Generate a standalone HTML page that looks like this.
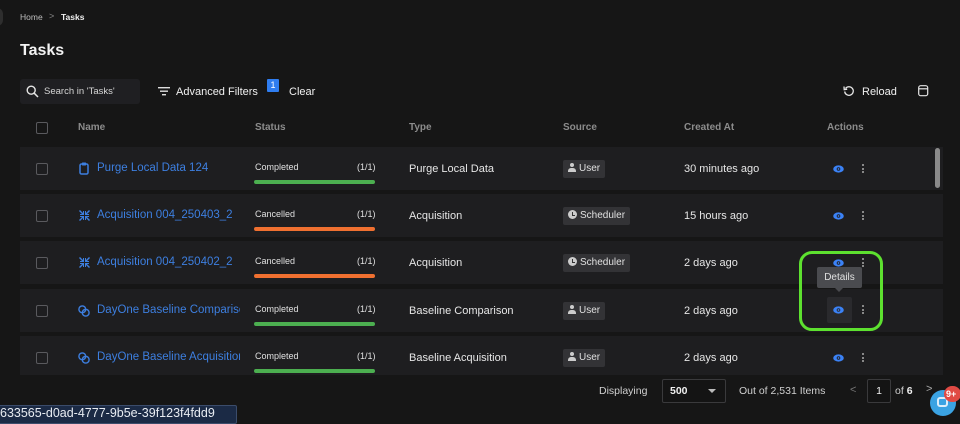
<!DOCTYPE html>
<html><head><meta charset="utf-8">
<style>
*{box-sizing:border-box;margin:0;padding:0}
body{width:960px;height:422px;overflow:hidden;background:#161616;font-family:"Liberation Sans",Arial,sans-serif;color:#e6e6e6;position:relative}
.a{position:absolute;white-space:nowrap}
.row{position:absolute;left:0;width:923px;height:43px;background:#1e1e20}
.cb{position:absolute;width:12px;height:12px;border:1px solid #5a5a5e;border-radius:2px}
.name{position:absolute;left:77px;top:15px;font-size:11.5px;color:#3d7fe0;width:143px;overflow:hidden;white-space:nowrap}
.st{position:absolute;left:235px;top:15px;font-size:9px;color:#e0e0e0}
.frac{position:absolute;left:337px;top:15px;font-size:9px;color:#e0e0e0}
.bar{position:absolute;left:234px;top:33px;width:121px;height:4px;border-radius:2px}
.type{position:absolute;left:389px;top:16px;font-size:11px;color:#e6e6e6}
.chip{position:absolute;left:543px;top:13px;height:18px;background:#333336;border-radius:2px;font-size:10px;color:#e0e0e0;padding:0 5px 0 5px;line-height:18px}
.ca{position:absolute;left:664px;top:16px;font-size:11px;color:#e6e6e6}
.eye{position:absolute;left:813px;top:18px}
.dots{position:absolute;left:842px;top:17px;width:2px}
.dots i{display:block;width:2px;height:2px;background:#aaa;margin-bottom:1.5px;border-radius:1px}
.hd{position:absolute;top:122px;font-size:10px;color:#8c8c8c;font-weight:bold}
</style></head><body>
<!-- left circle -->
<div class="a" style="left:-9px;top:8px;width:12px;height:18px;border-radius:9px;background:#2e2e2e"></div>
<!-- breadcrumbs -->
<div class="a" style="left:20px;top:12px;font-size:8.5px;color:#bdbdbd">Home</div>
<div class="a" style="left:49px;top:11px;font-size:9px;color:#888">&gt;</div>
<div class="a" style="left:61px;top:12px;font-size:8.5px;color:#f0f0f0;font-weight:bold">Tasks</div>
<div class="a" style="left:20px;top:42px;font-size:16px;color:#f2f2f2;font-weight:bold">Tasks</div>
<!-- search -->
<div class="a" style="left:20px;top:79px;width:120px;height:25px;background:#1f1f22;border-radius:3px"></div>
<svg class="a" style="left:26px;top:85px" width="13" height="13" viewBox="0 0 13 13"><circle cx="5.2" cy="5.2" r="4" fill="none" stroke="#e6e6e6" stroke-width="1.4"/><line x1="8.2" y1="8.2" x2="12" y2="12" stroke="#e6e6e6" stroke-width="1.5"/></svg>
<div class="a" style="left:44px;top:86px;font-size:9.5px;color:#d6d6d6">Search in 'Tasks'</div>
<!-- filters -->
<svg class="a" style="left:158px;top:86px" width="12" height="10"><rect x="0" y="1" width="12" height="1.4" fill="#ddd"/><rect x="2" y="4.5" width="8" height="1.4" fill="#ddd"/><rect x="4" y="8" width="4" height="1.4" fill="#ddd"/></svg>
<div class="a" style="left:176px;top:86px;font-size:11px;color:#f0f0f0">Advanced Filters</div>
<div class="a" style="left:267px;top:79px;width:12px;height:13px;background:#2f7df0;border-radius:1px;font-size:9px;color:#fff;text-align:center;line-height:13px">1</div>
<div class="a" style="left:289px;top:86px;font-size:11px;color:#f0f0f0">Clear</div>
<!-- reload -->
<svg class="a" style="left:843px;top:85px" width="12" height="12" viewBox="0 0 12 12"><path d="M2.5 3.5 A4.3 4.3 0 1 1 1.7 6.5" fill="none" stroke="#e6e6e6" stroke-width="1.3"/><path d="M1 1.5 L1.2 4.6 L4.2 4.2" fill="none" stroke="#e6e6e6" stroke-width="1.3"/></svg>
<div class="a" style="left:862px;top:86px;font-size:11px;color:#f0f0f0">Reload</div>
<svg class="a" style="left:918px;top:85px" width="11" height="12"><rect x="0.7" y="0.7" width="9" height="10" rx="2" fill="none" stroke="#e6e6e6" stroke-width="1.2"/><line x1="0.7" y1="3.8" x2="9.7" y2="3.8" stroke="#e6e6e6" stroke-width="1.2"/></svg>
<!-- header -->
<div class="cb" style="left:36px;top:122px"></div>
<div class="hd" style="left:78px">Name</div>
<div class="hd" style="left:255px">Status</div>
<div class="hd" style="left:409px">Type</div>
<div class="hd" style="left:563px">Source</div>
<div class="hd" style="left:684px">Created At</div>
<div class="hd" style="left:827px">Actions</div>
<!-- table -->
<div class="a" style="left:20px;top:147px;width:923px;height:228px;overflow:hidden">
 <!-- row1 -->
 <div class="row" style="top:0">
  <div class="cb" style="left:16px;top:16px"></div>
  <svg class="a" style="left:59px;top:15px" width="10" height="13"><rect x="1" y="2" width="8" height="10" rx="1.5" fill="none" stroke="#3d7fe0" stroke-width="1.5"/><rect x="3" y="0.5" width="4" height="3" rx="0.5" fill="#3d7fe0"/></svg>
  <div class="name">Purge Local Data 124</div>
  <div class="st">Completed</div><div class="frac">(1/1)</div>
  <div class="bar" style="background:#4caf50"></div>
  <div class="type">Purge Local Data</div>
  <div class="chip"><span style="display:inline-block;vertical-align:-1px;width:8px;height:9px;position:relative;margin-right:3px"><span style="position:absolute;left:2px;top:0;width:4px;height:4px;border-radius:2px;background:#ccc"></span><span style="position:absolute;left:0;top:5px;width:8px;height:4px;border-radius:3px 3px 0 0;background:#ccc"></span></span>User</div>
  <div class="ca">30 minutes ago</div>
  <svg class="eye" width="11" height="8" viewBox="0 0 11 8"><ellipse cx="5.5" cy="4" rx="5.3" ry="3.6" fill="#3b82f6"/><circle cx="5.5" cy="4" r="1.8" fill="#1e1e20"/><circle cx="5.5" cy="4" r="0.9" fill="#3b82f6"/></svg>
  <div class="dots"><i></i><i></i><i></i></div>
 </div>
 <!-- row2 -->
 <div class="row" style="top:47px">
  <div class="cb" style="left:16px;top:16px"></div>
  <svg class="a" style="left:59px;top:16px" width="11" height="11" viewBox="0 0 11 11" fill="#3d7fe0"><path d="M0 1 L1 0 L4 3 L4 1 L5 1 L5 5 L1 5 L1 4 L3 4 Z"/><path d="M11 1 L10 0 L7 3 L7 1 L6 1 L6 5 L10 5 L10 4 L8 4 Z"/><path d="M0 10 L1 11 L4 8 L4 10 L5 10 L5 6 L1 6 L1 7 L3 7 Z"/><path d="M11 10 L10 11 L7 8 L7 10 L6 10 L6 6 L10 6 L10 7 L8 7 Z"/></svg>
  <div class="name">Acquisition 004_250403_2</div>
  <div class="st">Cancelled</div><div class="frac">(1/1)</div>
  <div class="bar" style="background:#f07030"></div>
  <div class="type">Acquisition</div>
  <div class="chip"><span style="display:inline-block;vertical-align:-1px;width:9px;height:9px;border-radius:5px;background:#ccc;margin-right:3px;position:relative"><span style="position:absolute;left:4px;top:1.5px;width:1px;height:3.5px;background:#333"></span><span style="position:absolute;left:4px;top:4.5px;width:2.5px;height:1px;background:#333"></span></span>Scheduler</div>
  <div class="ca">15 hours ago</div>
  <svg class="eye" width="11" height="8" viewBox="0 0 11 8"><ellipse cx="5.5" cy="4" rx="5.3" ry="3.6" fill="#3b82f6"/><circle cx="5.5" cy="4" r="1.8" fill="#1e1e20"/><circle cx="5.5" cy="4" r="0.9" fill="#3b82f6"/></svg>
  <div class="dots"><i></i><i></i><i></i></div>
 </div>
 <!-- row3 -->
 <div class="row" style="top:94px">
  <div class="cb" style="left:16px;top:16px"></div>
  <svg class="a" style="left:59px;top:16px" width="11" height="11" viewBox="0 0 11 11" fill="#3d7fe0"><path d="M0 1 L1 0 L4 3 L4 1 L5 1 L5 5 L1 5 L1 4 L3 4 Z"/><path d="M11 1 L10 0 L7 3 L7 1 L6 1 L6 5 L10 5 L10 4 L8 4 Z"/><path d="M0 10 L1 11 L4 8 L4 10 L5 10 L5 6 L1 6 L1 7 L3 7 Z"/><path d="M11 10 L10 11 L7 8 L7 10 L6 10 L6 6 L10 6 L10 7 L8 7 Z"/></svg>
  <div class="name">Acquisition 004_250402_2</div>
  <div class="st">Cancelled</div><div class="frac">(1/1)</div>
  <div class="bar" style="background:#f07030"></div>
  <div class="type">Acquisition</div>
  <div class="chip"><span style="display:inline-block;vertical-align:-1px;width:9px;height:9px;border-radius:5px;background:#ccc;margin-right:3px;position:relative"><span style="position:absolute;left:4px;top:1.5px;width:1px;height:3.5px;background:#333"></span><span style="position:absolute;left:4px;top:4.5px;width:2.5px;height:1px;background:#333"></span></span>Scheduler</div>
  <div class="ca">2 days ago</div>
  <svg class="eye" width="11" height="8" viewBox="0 0 11 8"><ellipse cx="5.5" cy="4" rx="5.3" ry="3.6" fill="#3b82f6"/><circle cx="5.5" cy="4" r="1.8" fill="#1e1e20"/><circle cx="5.5" cy="4" r="0.9" fill="#3b82f6"/></svg>
  <div class="dots"><i></i><i></i><i></i></div>
 </div>
 <!-- row4 -->
 <div class="row" style="top:142px">
  <div class="cb" style="left:16px;top:16px"></div>
  <svg class="a" style="left:58px;top:16px" width="12" height="12" viewBox="0 0 12 12"><circle cx="4.3" cy="4.3" r="3.4" fill="none" stroke="#3d7fe0" stroke-width="1.4"/><circle cx="7.7" cy="7.7" r="3.4" fill="none" stroke="#3d7fe0" stroke-width="1.4"/></svg>
  <div class="name">DayOne Baseline Comparison</div>
  <div class="st">Completed</div><div class="frac">(1/1)</div>
  <div class="bar" style="background:#4caf50"></div>
  <div class="type">Baseline Comparison</div>
  <div class="chip"><span style="display:inline-block;vertical-align:-1px;width:8px;height:9px;position:relative;margin-right:3px"><span style="position:absolute;left:2px;top:0;width:4px;height:4px;border-radius:2px;background:#ccc"></span><span style="position:absolute;left:0;top:5px;width:8px;height:4px;border-radius:3px 3px 0 0;background:#ccc"></span></span>User</div>
  <div class="ca">2 days ago</div>
  <div class="a" style="left:807px;top:8px;width:25px;height:26px;background:#2a2a2d;border-radius:2px"></div>
  <svg class="eye" width="11" height="8" viewBox="0 0 11 8" style="top:17px"><ellipse cx="5.5" cy="4" rx="5.3" ry="3.6" fill="#3b82f6"/><circle cx="5.5" cy="4" r="1.8" fill="#2a2a2d"/><circle cx="5.5" cy="4" r="0.9" fill="#3b82f6"/></svg>
  <div class="dots" style="top:16px"><i></i><i></i><i></i></div>
 </div>
 <!-- row5 -->
 <div class="row" style="top:189px">
  <div class="cb" style="left:16px;top:16px"></div>
  <svg class="a" style="left:58px;top:16px" width="12" height="12" viewBox="0 0 12 12"><circle cx="4.3" cy="4.3" r="3.4" fill="none" stroke="#3d7fe0" stroke-width="1.4"/><circle cx="7.7" cy="7.7" r="3.4" fill="none" stroke="#3d7fe0" stroke-width="1.4"/></svg>
  <div class="name">DayOne Baseline Acquisition</div>
  <div class="st">Completed</div><div class="frac">(1/1)</div>
  <div class="bar" style="background:#4caf50"></div>
  <div class="type">Baseline Acquisition</div>
  <div class="chip"><span style="display:inline-block;vertical-align:-1px;width:8px;height:9px;position:relative;margin-right:3px"><span style="position:absolute;left:2px;top:0;width:4px;height:4px;border-radius:2px;background:#ccc"></span><span style="position:absolute;left:0;top:5px;width:8px;height:4px;border-radius:3px 3px 0 0;background:#ccc"></span></span>User</div>
  <div class="ca">2 days ago</div>
  <svg class="eye" width="11" height="8" viewBox="0 0 11 8"><ellipse cx="5.5" cy="4" rx="5.3" ry="3.6" fill="#3b82f6"/><circle cx="5.5" cy="4" r="1.8" fill="#1e1e20"/><circle cx="5.5" cy="4" r="0.9" fill="#3b82f6"/></svg>
  <div class="dots"><i></i><i></i><i></i></div>
 </div>
 <!-- scrollbar -->
 <div class="a" style="left:915px;top:1px;width:5px;height:40px;background:#8a8a8a;border-radius:3px"></div>
</div>
<!-- tooltip Details -->
<div class="a" style="left:817px;top:267px;width:45px;height:21px;background:#4a4b4f;border-radius:2px;font-size:10px;color:#e0e0e0;text-align:center;line-height:21px">Details</div>
<div class="a" style="left:835px;top:288px;width:0;height:0;border-left:4px solid transparent;border-right:4px solid transparent;border-top:4px solid #4a4b4f"></div>
<!-- green highlight -->
<div class="a" style="left:799px;top:251px;width:84px;height:80px;border:3px solid #5de12f;border-radius:13px"></div>
<!-- footer -->
<div class="a" style="left:599px;top:385px;font-size:10.5px;color:#d0d0d0">Displaying</div>
<div class="a" style="left:662px;top:379px;width:64px;height:24px;border:1px solid #3a3a3c;border-radius:2px;background:#141414"></div>
<div class="a" style="left:670px;top:385px;font-size:10.5px;color:#f0f0f0;font-weight:bold">500</div>
<div class="a" style="left:708px;top:389px;width:0;height:0;border-left:4px solid transparent;border-right:4px solid transparent;border-top:4px solid #bbb"></div>
<div class="a" style="left:739px;top:385px;font-size:10.5px;color:#d0d0d0">Out of 2,531 Items</div>
<div class="a" style="left:850px;top:384px;font-size:11px;color:#777">&lt;</div>
<div class="a" style="left:867px;top:379px;width:24px;height:24px;border:1px solid #3a3a3c;border-radius:2px;background:#141414;font-size:10.5px;color:#f0f0f0;text-align:center;line-height:22px">1</div>
<div class="a" style="left:895px;top:385px;font-size:10.5px;color:#d0d0d0">of <b style="color:#f0f0f0">6</b></div>
<div class="a" style="left:926px;top:383px;font-size:11px;color:#aaa">&gt;</div>
<!-- chat bubble -->
<div class="a" style="left:930px;top:390px;width:26px;height:26px;border-radius:13px;background:#3ba3e3"></div>
<div class="a" style="left:937px;top:397px;width:11px;height:10px;border:2px solid #dceefb;border-radius:3px"></div>
<div class="a" style="left:944px;top:386px;width:17px;height:16px;border-radius:8px;background:#e04a44;font-size:9px;color:#fff;font-weight:bold;line-height:16px;padding-left:2px">9+</div>
<!-- bottom-left id tooltip -->
<div class="a" style="left:-2px;top:405px;width:239px;height:19px;background:#1b2a45;border:1px solid #3b4c6b;border-radius:2px"></div>
<div class="a" style="left:0;top:406px;font-size:12.5px;color:#e8ecf2">633565-d0ad-4777-9b5e-39f123f4fdd9</div>
</body></html>
